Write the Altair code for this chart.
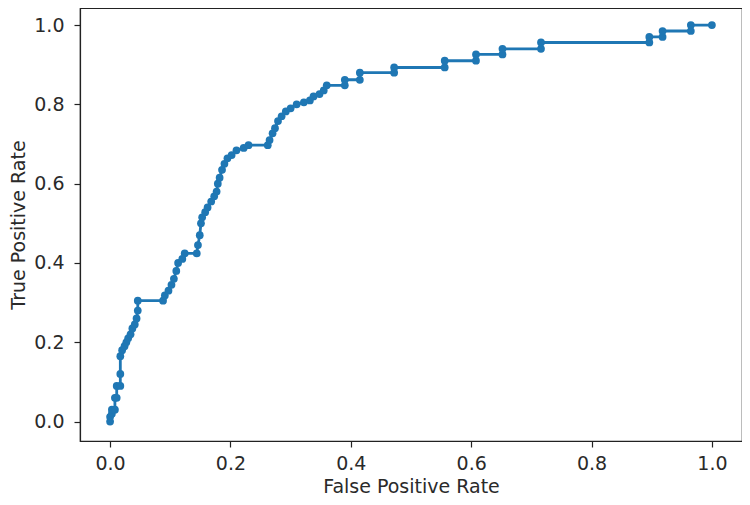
import altair as alt
import pandas as pd

# ROC curve vertices
fpr = [0.0, 0.0, 0.003, 0.003, 0.008, 0.008, 0.011, 0.011, 0.017, 0.017,
       0.017, 0.02, 0.024, 0.027, 0.03, 0.034, 0.037, 0.041, 0.044, 0.046,
       0.046, 0.088, 0.091, 0.097, 0.102, 0.106, 0.11, 0.113, 0.12, 0.124,
       0.144, 0.146, 0.149, 0.151, 0.153, 0.158, 0.162, 0.168, 0.173, 0.177,
       0.179, 0.182, 0.186, 0.19, 0.195, 0.202, 0.21, 0.222, 0.23, 0.262,
       0.265, 0.27, 0.274, 0.279, 0.285, 0.292, 0.3, 0.31, 0.322, 0.332,
       0.338, 0.348, 0.355, 0.36, 0.39, 0.39, 0.415, 0.415, 0.472, 0.472,
       0.556, 0.556, 0.608, 0.608, 0.652, 0.652, 0.716, 0.716, 0.896, 0.896,
       0.918, 0.918, 0.965, 0.965, 1.0]
tpr = [0.0, 0.012, 0.02, 0.03, 0.03, 0.06, 0.06, 0.09, 0.09, 0.12,
       0.165, 0.18, 0.19, 0.2, 0.21, 0.22, 0.235, 0.245, 0.26, 0.28,
       0.305, 0.305, 0.318, 0.33, 0.345, 0.36, 0.38, 0.4, 0.41, 0.424,
       0.424, 0.445, 0.47, 0.5, 0.515, 0.528, 0.54, 0.555, 0.568, 0.58,
       0.6, 0.615, 0.635, 0.65, 0.664, 0.672, 0.684, 0.69, 0.697, 0.697,
       0.71, 0.727, 0.74, 0.758, 0.77, 0.782, 0.79, 0.8, 0.805, 0.81,
       0.82, 0.826, 0.835, 0.848, 0.848, 0.862, 0.862, 0.88, 0.88, 0.893,
       0.893, 0.91, 0.91, 0.926, 0.926, 0.94, 0.94, 0.956, 0.956, 0.97,
       0.97, 0.985, 0.985, 1.0, 1.0]
tick_values = [0.0, 0.2, 0.4, 0.6, 0.8, 1.0]

df = pd.DataFrame({"fpr": fpr, "tpr": tpr, "order": list(range(len(fpr)))})

FONT = "DejaVu Sans"
TXT = "#2a2a2a"
BLUE = "#1f77b4"

x = alt.X("fpr:Q", title="False Positive Rate",
          scale=alt.Scale(domain=[-0.05, 1.05], nice=False, zero=False),
          axis=alt.Axis(values=tick_values, format=".1f", grid=False))
y = alt.Y("tpr:Q", title="True Positive Rate",
          scale=alt.Scale(domain=[-0.049, 1.043], nice=False, zero=False),
          axis=alt.Axis(values=tick_values, format=".1f", grid=False))

line = alt.Chart(df).mark_line(color=BLUE, strokeWidth=2.8).encode(
    x=x, y=y, order="order:Q")
pts = alt.Chart(df).mark_point(color=BLUE, filled=True, opacity=1, size=60).encode(
    x=x, y=y)

chart = (line + pts).properties(
    width=662, height=433,
    autosize=alt.AutoSizeParams(type="none"),
    padding={"left": 72, "top": 0, "right": 0, "bottom": 56},
).configure_view(
    stroke="#222222", strokeWidth=1.2
).configure_axis(
    domainColor="#222222", domainWidth=1.2,
    tickColor="#222222", tickWidth=1.2, tickSize=6,
    labelFont=FONT, labelFontSize=19, labelColor=TXT,
    titleFont=FONT, titleFontSize=19, titleColor=TXT, titleFontWeight="normal",
).configure_axisX(labelPadding=7, titlePadding=4).configure_axisY(labelPadding=10, titlePadding=5)

chart.save("out.html", embed_options={"renderer": "svg", "actions": False})
